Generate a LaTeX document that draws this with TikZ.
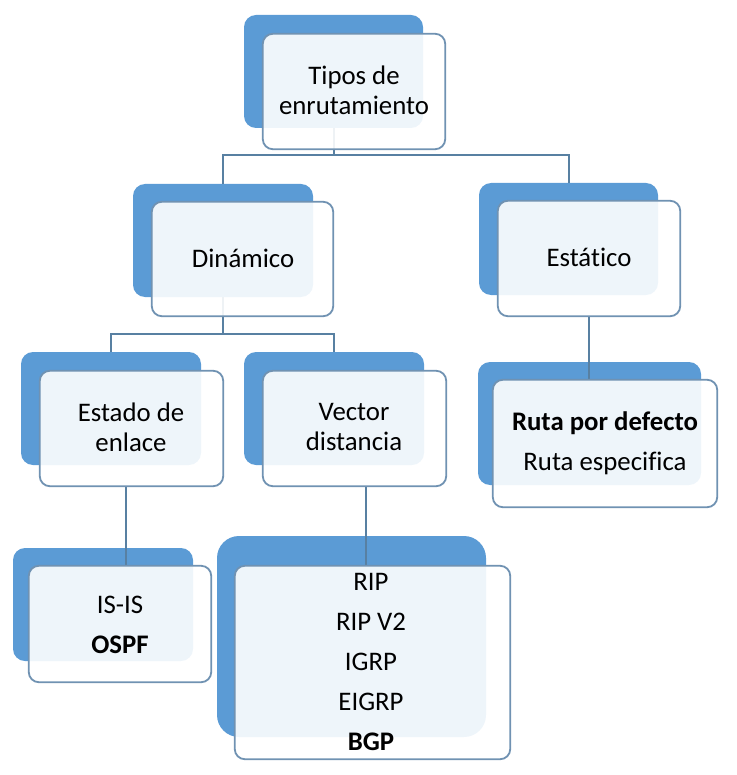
\documentclass[tikz,border=0pt]{standalone}
\usepackage{fontspec}
\setmainfont{Carlito}[Ligatures=NoCommon]
\definecolor{backblue}{RGB}{91,155,213}
\definecolor{edgeblue}{RGB}{112,146,178}
\definecolor{linkblue}{RGB}{88,128,162}
\begin{document}
\begin{tikzpicture}[x=1pt,y=-1pt,
  back/.style={fill=backblue, draw=none, rounded corners=12pt, inner sep=0pt},
  front/.style={fill=white, fill opacity=0.9, draw=edgeblue, line width=1.8pt, rounded corners=10pt, inner sep=0pt},
  slot/.style={inner sep=0pt, draw=none, fill=none},
  txt/.style={font=\fontsize{26.8}{30}\selectfont, align=center, text=black, inner sep=0pt},
  txtw/.style={font=\fontsize{26.8}{40}\selectfont, align=center, text=black, inner sep=0pt},
  link/.style={draw=linkblue, line width=2pt}]
\useasboundingbox (0,0) rectangle (736,775);
% back boxes
\node[back, minimum width=179pt, minimum height=113pt] (tb) at (333.5,71.5) {};
\node[back, minimum width=180pt, minimum height=113pt] (db) at (223,240.5) {};
\node[back, minimum width=179pt, minimum height=112pt] (eb) at (568.5,239) {};
\node[back, minimum width=180pt, minimum height=113pt] (sb) at (111,408.5) {};
\node[back, minimum width=180pt, minimum height=113pt] (vb) at (334,408.5) {};
\node[back, minimum width=223pt, minimum height=123pt] (rb) at (589.5,423.5) {};
\node[back, minimum width=180pt, minimum height=113pt] (isb) at (103,604.5) {};
\node[back, minimum width=269pt, minimum height=201pt, rounded corners=22pt] (lb) at (351.5,636.5) {};
% front box slots
\node[slot, minimum width=182pt, minimum height=115pt] (tf) at (354,91.5) {};
\node[slot, minimum width=181pt, minimum height=114pt] (df) at (242.5,259) {};
\node[slot, minimum width=182pt, minimum height=115pt] (ef) at (589,258.5) {};
\node[slot, minimum width=183pt, minimum height=115pt] (sf) at (131.5,428.5) {};
\node[slot, minimum width=183pt, minimum height=115pt] (vf) at (354.5,428.5) {};
\node[slot, minimum width=224pt, minimum height=127pt] (rf) at (605,443.5) {};
\node[slot, minimum width=182pt, minimum height=116pt] (isf) at (120,624) {};
\node[slot, minimum width=275pt, minimum height=193pt] (lf) at (372.5,662.5) {};
% connectors
\coordinate (j1) at (333.5,155);
\coordinate (j2) at (223,334);
\draw[link] (tb.south) -- (j1);
\draw[link] (db.north) -- (db.north |- j1) -- (eb.north |- j1) -- (eb.north);
\draw[link] (db.south) -- (j2);
\draw[link] (sb.north) -- (sb.north |- j2) -- (vb.north |- j2) -- (vb.north);
\draw[link] (ef.south) -- (ef.south |- rf.north);
\draw[link] ([xshift=-5.5pt]sf.south) -- ([xshift=6pt]isf.north);
\draw[link] ([xshift=11.5pt]vf.south) -- ([xshift=-6.5pt]lf.north);
% front boxes drawn
\foreach \n in {tf,df,ef,sf,vf,rf,isf,lf}{
  \draw[front] (\n.north west) rectangle (\n.south east);
}
% texts
\node[txt] (t1) at (354,90) {Tipos de\\enrutamiento};
\node[txt] (t2) at (243,258) {Dinámico};
\node[txt] (t3) at (589,257) {Estático};
\node[txt] (t4) at (131,427) {Estado de\\enlace};
\node[txt] (t5) at (354,427) {Vector\\distancia};
\node[txtw] (t6) at (605,443) {\textbf{Ruta por defecto}\\Ruta especifica};
\node[txtw] (t7) at (120,625) {IS-IS\\\textbf{OSPF}};
\node[txtw] (t8) at (371,662) {RIP\\RIP V2\\IGRP\\EIGRP\\\textbf{BGP}};
\end{tikzpicture}
\end{document}
